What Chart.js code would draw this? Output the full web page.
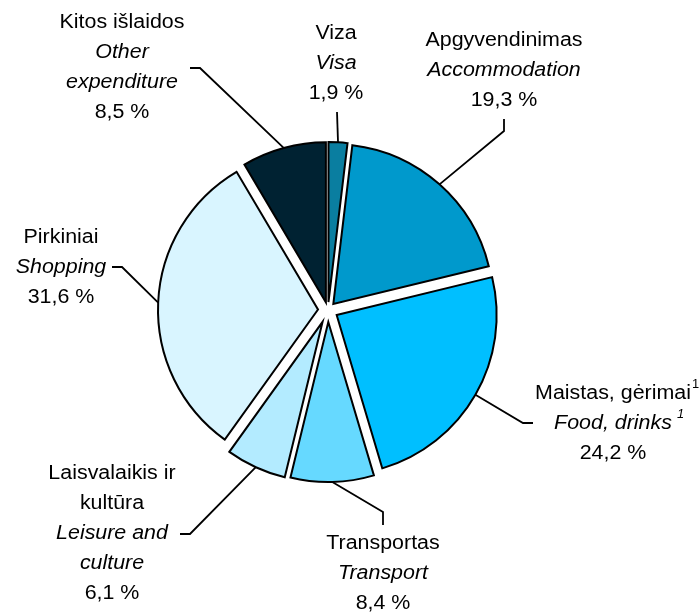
<!DOCTYPE html>
<html lang="lt">
<head>
<meta charset="utf-8">
<title>Išlaidų struktūra</title>
<script src="https://cdn.jsdelivr.net/npm/chart.js@4/dist/chart.umd.min.js"></script>
<style>
  html, body { margin: 0; padding: 0; background: #fff; }
  #wrap { width: 700px; height: 615px; }
</style>
</head>
<body>
<div id="wrap"><canvas id="expChart" width="700" height="615"></canvas></div>
<script>
// expenditure shares, clockwise from 12 o'clock
const categoriesLt = ["Viza", "Apgyvendinimas", "Maistas, gėrimai", "Transportas", "Laisvalaikis ir kultūra", "Pirkiniai", "Kitos išlaidos"];
const categoriesEn = ["Visa", "Accommodation", "Food, drinks", "Transport", "Leisure and culture", "Shopping", "Other expenditure"];
const shares = [1.9, 19.3, 24.2, 8.4, 6.1, 31.6, 8.5];

const sliceColors = ["#0a7ea0", "#0099cc", "#00bfff", "#66d9ff", "#b3ebff", "#d9f5ff", "#002232"];
const explode = [8, 8, 10, 12, 13, 10, 8];

// label placement: text centre x, first line y, line wrapping, leader path (text side first)
const labelLayout = [
  { x: 336, y: 33, lt: ["Viza"], en: ["Visa"], path: [[337, 112]] },
  { x: 504, y: 40, lt: ["Apgyvendinimas"], en: ["Accommodation"], path: [[504, 119], [504, 131]] },
  { x: 613, y: 393, lt: ["Maistas, gėrimai"], en: ["Food, drinks"], sup: true, path: [[533, 423], [523, 423]] },
  { x: 383, y: 543, lt: ["Transportas"], en: ["Transport"], path: [[383, 525], [383, 512]] },
  { x: 112, y: 473, lt: ["Laisvalaikis ir", "kultūra"], en: ["Leisure and", "culture"], path: [[180, 534], [190, 534]] },
  { x: 61, y: 237, lt: ["Pirkiniai"], en: ["Shopping"], path: [[112, 267], [122, 267]] },
  { x: 122, y: 22, lt: ["Kitos išlaidos"], en: ["Other", "expenditure"], path: [[190, 68], [200, 68]] },
];

const FONT = '"Liberation Sans", Arial, sans-serif';
const LINE_H = 30;
const STRETCH = 1.07; // labels are set a little wide

function fmt(v) {
  return v.toFixed(1).replace(".", ",") + " %";
}

function wideText(ctx, text, x, y) {
  ctx.save();
  ctx.translate(x, y);
  ctx.scale(STRETCH, 1);
  ctx.fillText(text, 0, 0);
  ctx.restore();
}

// pull each slice outward along its middle angle
const explodePlugin = {
  id: "explode",
  beforeDatasetDraw(chart, args) {
    const ctx = chart.ctx;
    args.meta.data.forEach((arc, i) => {
      const mid = (arc.startAngle + arc.endAngle) / 2;
      ctx.save();
      ctx.translate(Math.cos(mid) * explode[i], Math.sin(mid) * explode[i]);
      arc.draw(ctx);
      ctx.restore();
    });
    return false;
  },
};

const labelPlugin = {
  id: "sliceLabels",
  afterDraw(chart) {
    const ctx = chart.ctx;
    const arcs = chart.getDatasetMeta(0).data;
    ctx.save();
    ctx.fillStyle = "#000";
    ctx.strokeStyle = "#000";
    ctx.lineWidth = 1.8;
    ctx.textAlign = "center";
    ctx.textBaseline = "middle";

    labelLayout.forEach((lab, i) => {
      const lines = [];
      lab.lt.forEach((t) => lines.push({ t, italic: false, sup: lab.sup }));
      lab.en.forEach((t) => lines.push({ t, italic: true, sup: lab.sup, gap: true }));
      lines.push({ t: fmt(shares[i]), italic: false });

      lines.forEach((ln, k) => {
        const y = lab.y + k * LINE_H;
        ctx.font = (ln.italic ? "italic " : "") + "20px " + FONT;
        wideText(ctx, ln.t, lab.x, y);
        if (ln.sup) {
          const w = ctx.measureText(ln.t).width * STRETCH;
          ctx.font = (ln.italic ? "italic " : "") + "12px " + FONT;
          ctx.textAlign = "left";
          wideText(ctx, "1", lab.x + w / 2 + (ln.gap ? 5 : 1), y - 8);
          ctx.textAlign = "center";
        }
      });

      // leader line to the outer edge of the slice
      const arc = arcs[i];
      const mid = (arc.startAngle + arc.endAngle) / 2;
      const r = arc.outerRadius + explode[i];
      const ex = arc.x + Math.cos(mid) * r;
      const ey = arc.y + Math.sin(mid) * r;
      ctx.beginPath();
      ctx.moveTo(lab.path[0][0], lab.path[0][1]);
      for (let p = 1; p < lab.path.length; p++) ctx.lineTo(lab.path[p][0], lab.path[p][1]);
      ctx.lineTo(ex, ey);
      ctx.stroke();
    });
    ctx.restore();
  },
};

new Chart(document.getElementById("expChart"), {
  type: "pie",
  data: {
    labels: categoriesLt,
    datasets: [
      {
        data: shares,
        backgroundColor: sliceColors,
        borderColor: "#000",
        borderWidth: 2,
        borderJoinStyle: "miter",
      },
    ],
  },
  options: {
    responsive: false,
    animation: false,
    events: [],
    radius: 160,
    layout: { padding: { left: 100, right: 144, top: 130, bottom: 125 } },
    plugins: {
      legend: { display: false },
      tooltip: { enabled: false },
    },
  },
  plugins: [explodePlugin, labelPlugin],
});
</script>
</body>
</html>
